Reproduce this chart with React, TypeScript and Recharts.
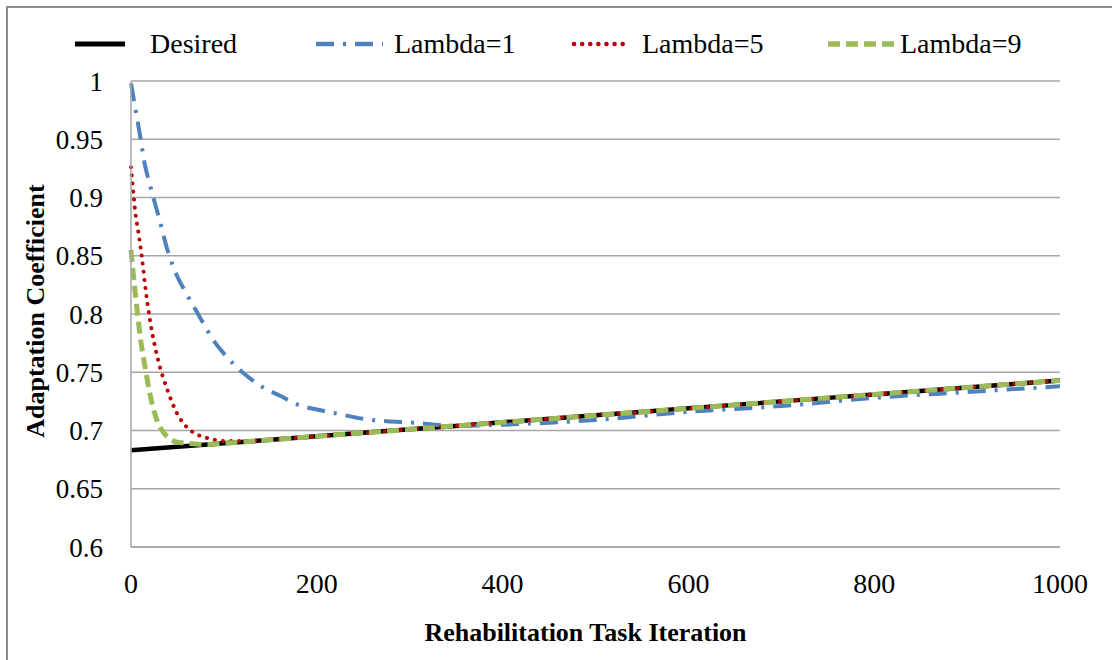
import { LineChart, Line, XAxis, YAxis, CartesianGrid, Label } from 'recharts';

// iteration -> adaptation coefficient
const desiredIter = [0, 100, 200, 300, 400, 500, 600, 700, 800, 900, 1000];
const desiredValues = [0.683, 0.689, 0.695, 0.701, 0.707, 0.713, 0.719, 0.725, 0.731, 0.737, 0.743];

const lambda1Iter = [0, 5, 10, 15, 20, 30, 40, 50, 60, 70, 80, 90, 100, 120, 140, 160, 180, 200, 225, 250, 275, 300, 350, 400, 500, 600, 700, 800, 900, 1000];
const lambda1Values = [0.998, 0.975, 0.952, 0.928, 0.912, 0.883, 0.853, 0.832, 0.817, 0.803, 0.789, 0.776, 0.766, 0.75, 0.738, 0.73, 0.722, 0.718, 0.714, 0.71, 0.708, 0.707, 0.704, 0.705, 0.709, 0.716, 0.721, 0.728, 0.733, 0.738];

const lambda5Iter = [0, 3, 5, 8, 12, 15, 20, 25, 30, 40, 50, 60, 70, 80, 90, 100, 120, 150, 200, 300, 400, 500, 600, 700, 800, 900, 1000];
const lambda5Values = [0.926, 0.9, 0.885, 0.87, 0.847, 0.826, 0.797, 0.775, 0.758, 0.733, 0.714, 0.703, 0.697, 0.694, 0.692, 0.691, 0.691, 0.692, 0.695, 0.701, 0.707, 0.713, 0.719, 0.725, 0.731, 0.737, 0.743];

const lambda9Iter = [0, 2, 5, 10, 15, 20, 25, 30, 40, 50, 60, 80, 100, 150, 200, 300, 400, 500, 600, 700, 800, 900, 1000];
const lambda9Values = [0.855, 0.838, 0.815, 0.78, 0.755, 0.733, 0.716, 0.705, 0.694, 0.69, 0.689, 0.688, 0.689, 0.692, 0.695, 0.701, 0.707, 0.713, 0.719, 0.725, 0.731, 0.737, 0.743];

const xTicks = [0, 200, 400, 600, 800, 1000];
const yTicks = [0.6, 0.65, 0.7, 0.75, 0.8, 0.85, 0.9, 0.95, 1];

const legendNames = ['Desired', 'Lambda=1', 'Lambda=5', 'Lambda=9'];

const toPoints = (xs: number[], ys: number[]) => xs.map((x, i) => ({ x, y: ys[i] }));

const FONT = '"Liberation Serif", "Times New Roman", serif';

const styles = [
  { stroke: '#000000', width: 4.5, dash: undefined as string | undefined, cap: 'butt' as const },
  { stroke: '#4f81bd', width: 4, dash: '18 9 3 9', cap: 'butt' as const },
  { stroke: '#c00000', width: 4, dash: '0.1 8', cap: 'round' as const },
  { stroke: '#9bbb59', width: 5, dash: '12 6', cap: 'butt' as const },
];

// legend layout: swatch start/end and text start, in page px
const legendLayout = [
  { x0: 75, x1: 125, tx: 150 },
  { x0: 316, x1: 383, tx: 394 },
  { x0: 571, x1: 628, tx: 642 },
  { x0: 828, x1: 895, tx: 900 },
];

function ChartLegend() {
  return (
    <div style={{ position: 'absolute', left: 0, top: 0, width: 1112, height: 80 }}>
      {legendNames.map((name, i) => {
        const s = styles[i];
        const l = legendLayout[i];
        return (
          <div key={name}>
            <svg
              style={{ position: 'absolute', left: l.x0, top: 36 }}
              width={l.x1 - l.x0}
              height={16}
            >
              <line
                x1={s.cap === 'round' ? 3 : 0}
                x2={l.x1 - l.x0}
                y1={8}
                y2={8}
                stroke={s.stroke}
                strokeWidth={s.width + 0.5}
                strokeDasharray={s.dash}
                strokeLinecap={s.cap}
              />
            </svg>
            <div
              style={{
                position: 'absolute',
                left: l.tx,
                top: 44,
                transform: 'translateY(-50%)',
                fontFamily: FONT,
                fontSize: 28,
                lineHeight: '32px',
                color: '#000',
                whiteSpace: 'nowrap',
              }}
            >
              {name}
            </div>
          </div>
        );
      })}
    </div>
  );
}

export default function App() {
  const series = [
    toPoints(desiredIter, desiredValues),
    toPoints(lambda1Iter, lambda1Values),
    toPoints(lambda5Iter, lambda5Values),
    toPoints(lambda9Iter, lambda9Values),
  ];

  return (
    <div style={{ position: 'absolute', left: 0, top: 0, width: 1112, height: 660, background: '#fff', overflow: 'hidden' }}>
      <div
        style={{
          position: 'absolute',
          left: 6,
          top: 6,
          width: 1200,
          height: 700,
          borderLeft: '2px solid #8c8c8c',
          borderTop: '2px solid #8c8c8c',
        }}
      />
      <ChartLegend />
      <LineChart
        width={1112}
        height={660}
        margin={{ top: 81, right: 52, left: 10, bottom: 43 }}
        style={{ position: 'absolute', left: 0, top: 0 }}
      >
        <CartesianGrid vertical={false} stroke="#a6a6a6" strokeWidth={1.5} />
        <XAxis
          type="number"
          dataKey="x"
          domain={[0, 1000]}
          ticks={xTicks}
          height={70}
          axisLine={{ stroke: '#a6a6a6', strokeWidth: 1.5 }}
          tickLine={false}
          tickSize={6}
          tickMargin={20}
          tick={{ fill: '#000', fontSize: 28, fontFamily: FONT }}
        >
          <Label
            content={({ viewBox }: any) => {
              const cx = viewBox.x + viewBox.width / 2 - 10;
              const cy = viewBox.y + 85;
              return (
                <text
                  x={cx}
                  y={cy}
                  textAnchor="middle"
                  dominantBaseline="central"
                  fontFamily={FONT}
                  fontWeight="bold"
                  fontSize={26}
                  fill="#000"
                >
                  Rehabilitation Task Iteration
                </text>
              );
            }}
          />
        </XAxis>
        <YAxis
          type="number"
          domain={[0.6, 1]}
          ticks={yTicks}
          width={121}
          axisLine={{ stroke: '#a6a6a6', strokeWidth: 1.5 }}
          tickLine={false}
          tickSize={6}
          tickMargin={22}
          tick={{ fill: '#000', fontSize: 27, fontFamily: FONT }}
        >
          <Label
            content={({ viewBox }: any) => {
              const cx = viewBox.x + 25;
              const cy = viewBox.y + viewBox.height / 2 - 3;
              return (
                <text
                  x={cx}
                  y={cy}
                  transform={`rotate(-90 ${cx} ${cy})`}
                  textAnchor="middle"
                  dominantBaseline="central"
                  fontFamily={FONT}
                  fontWeight="bold"
                  fontSize={26}
                  fill="#000"
                >
                  Adaptation Coefficient
                </text>
              );
            }}
          />
        </YAxis>
        {series.map((data, i) => (
          <Line
            key={legendNames[i]}
            data={data}
            dataKey="y"
            name={legendNames[i]}
            type="monotone"
            stroke={styles[i].stroke}
            strokeWidth={styles[i].width}
            strokeDasharray={styles[i].dash}
            strokeLinecap={styles[i].cap}
            dot={false}
            activeDot={false}
            isAnimationActive={false}
          />
        ))}
      </LineChart>
    </div>
  );
}
